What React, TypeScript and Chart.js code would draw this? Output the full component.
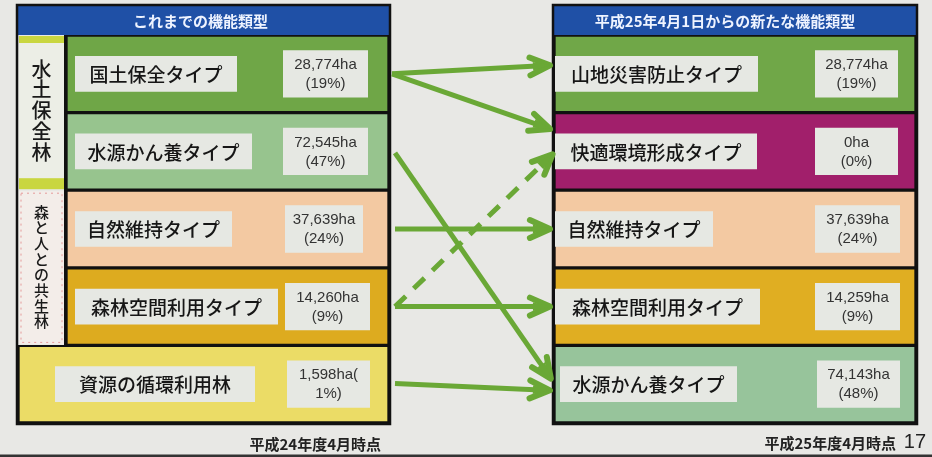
import React, { useEffect, useRef } from "react";
import { Chart, registerables } from "chart.js";
Chart.register(...registerables);

// ---- data ----
const rows = ["row1", "row2", "row3", "row4", "row5"];
const leftTitle = "これまでの機能類型";
const rightTitle = "平成25年4月1日からの新たな機能類型";
const leftNames = ["国土保全タイプ", "水源かん養タイプ", "自然維持タイプ", "森林空間利用タイプ", "資源の循環利用林"];
const leftAreas = ["28,774ha", "72,545ha", "37,639ha", "14,260ha", "1,598ha("];
const leftShares = ["(19%)", "(47%)", "(24%)", "(9%)", "1%)"];
const rightNames = ["山地災害防止タイプ", "快適環境形成タイプ", "自然維持タイプ", "森林空間利用タイプ", "水源かん養タイプ"];
const rightAreas = ["28,774ha", "0ha", "37,639ha", "14,259ha", "74,143ha"];
const rightShares = ["(19%)", "(0%)", "(24%)", "(9%)", "(48%)"];
const groupLabels = ["水土保全林", "森と人との共生林"];
const groupRows = [[0, 1], [2, 3]];
const leftFooter = "平成24年度4月時点";
const rightFooter = "平成25年度4月時点";
const pageNo = "17";

// transitions: from row -> to row (row offsets in row units)
const arrowFrom = [0, 0, 1, 2, 3, 3, 4];
const arrowTo = [0, 1, 4, 2, 3, 1, 4];
const arrowFromOff = [0, 0, 0.02, 0, 0, 0, -0.01];
const arrowToOff = [-0.11, -0.28, -0.05, 0, 0, 0.02, 0.08];
const arrowDashed = [false, false, false, false, false, true, false];
const arrowStartX = [392, 392, 395, 395, 395, 395, 395];
const arrowEndX = [552, 552, 552, 552, 552, 554, 552];

// ---- layout (x units) ----
const leftPanel = [17, 390];
const rightPanel = [553, 917];
const leftBoxes = [[66, 389], [66, 389], [66, 389], [66, 389], [18, 389]];
const rightBoxes = [[554, 916], [554, 916], [554, 916], [554, 916], [554, 916]];
const leftNameBoxes = [[75, 237], [75, 252], [75, 232], [75, 278], [55, 255]];
const leftValueBoxes = [[283, 368], [283, 368], [285, 363], [285, 370], [287, 370]];
const rightNameBoxes = [[555, 758], [555, 757], [555, 713], [555, 760], [560, 737]];
const rightValueBoxes = [[815, 898], [815, 898], [815, 900], [815, 900], [817, 900]];
const groupCol = [19, 64];

// ---- styles ----
const leftColors = ["#6fa647", "#97c48e", "#f3c9a2", "#ddab1f", "#ebdc66"];
const rightColors = ["#70a748", "#a11f6b", "#f3c9a2", "#e0ae22", "#97c49b"];
const BG = "#e8e8e5";
const BLUE = "#1f50a6";
const LABEL_BOX = "#e6e8e3";
const ARROW = "#6aa836";
const JP = '"Noto Sans CJK JP", "Noto Sans", sans-serif';
const LAT = '"Liberation Sans", Arial, sans-serif';

function drawHead(ctx: CanvasRenderingContext2D, x: number, y: number, ang: number) {
  const len = 22, spread = 0.42;
  ctx.save();
  ctx.strokeStyle = ARROW;
  ctx.fillStyle = ARROW;
  ctx.lineWidth = 6;
  ctx.lineCap = "round";
  ctx.lineJoin = "round";
  ctx.setLineDash([]);
  ctx.beginPath();
  ctx.moveTo(x - len * Math.cos(ang - spread), y - len * Math.sin(ang - spread));
  ctx.lineTo(x, y);
  ctx.lineTo(x - len * Math.cos(ang + spread), y - len * Math.sin(ang + spread));
  ctx.stroke();
  ctx.beginPath();
  ctx.moveTo(x, y);
  ctx.lineTo(x - len * 0.8 * Math.cos(ang - spread * 0.6), y - len * 0.8 * Math.sin(ang - spread * 0.6));
  ctx.lineTo(x - len * 0.8 * Math.cos(ang + spread * 0.6), y - len * 0.8 * Math.sin(ang + spread * 0.6));
  ctx.closePath();
  ctx.fill();
  ctx.restore();
}

const diagramPlugin = {
  id: "diagram",
  beforeDraw(chart: any) {
    const { ctx, width, height } = chart;
    ctx.save();
    ctx.fillStyle = BG;
    ctx.fillRect(0, 0, width, height);
    ctx.restore();
  },
  beforeDatasetsDraw(chart: any) {
    const { ctx, scales } = chart;
    const xs = scales.x;
    const top = chart.chartArea.top;
    ctx.save();
    [[leftPanel, leftTitle, -3], [rightPanel, rightTitle, -10]].forEach(([p, t, sh]: any) => {
      const x0 = xs.getPixelForValue(p[0]);
      const x1 = xs.getPixelForValue(p[1]);
      ctx.fillStyle = BLUE;
      ctx.fillRect(x0, 5, x1 - x0, top - 5);
      ctx.fillStyle = "#eef3ff";
      ctx.font = `bold 15px ${JP}`;
      ctx.textAlign = "center";
      ctx.textBaseline = "middle";
      ctx.fillText(t, (x0 + x1) / 2 + sh, (5 + top) / 2 + 1);
    });
    ctx.restore();
  },
  afterDatasetsDraw(chart: any) {
    const { ctx, scales, chartArea } = chart;
    const xs = scales.x, ys = scales.y;
    const rowH = (chartArea.bottom - chartArea.top) / rows.length;
    const cy = (i: number) => ys.getPixelForValue(i);
    ctx.save();

    // group label column
    groupRows.forEach((gr, gi) => {
      const y0 = cy(gr[0]) - rowH / 2 + 1;
      const y1 = cy(gr[gr.length - 1]) + rowH / 2 - 1;
      const x0 = xs.getPixelForValue(groupCol[0]);
      const x1 = xs.getPixelForValue(groupCol[1]);
      ctx.fillStyle = gi === 0 ? "#eceee6" : "#f3ede9";
      ctx.fillRect(x0, y0, x1 - x0, y1 - y0);
      if (gi === 0) {
        ctx.fillStyle = "#c9d640";
        ctx.fillRect(x0, y0, x1 - x0, 7);
        ctx.fillRect(x0, y1 - 11, x1 - x0, 11);
      } else {
        ctx.strokeStyle = "#e59a9a";
        ctx.lineWidth = 1;
        ctx.setLineDash([2, 4]);
        ctx.strokeRect(x0 + 2, y0 + 2, x1 - x0 - 4, y1 - y0 - 4);
        ctx.setLineDash([]);
      }
      const label = groupLabels[gi];
      const chars = Array.from(label);
      const size = gi === 0 ? 20 : 15;
      const step = gi === 0 ? 20.7 : 15.7;
      const mid = (y0 + y1) / 2 - (gi === 0 ? 2 : 1);
      ctx.fillStyle = "#1a1a1a";
      ctx.font = `500 ${size}px ${JP}`;
      ctx.textAlign = "center";
      ctx.textBaseline = "middle";
      chars.forEach((c, k) => {
        ctx.fillText(c, (x0 + x1) / 2, mid + (k - (chars.length - 1) / 2) * step);
      });
    });
    // divider between group column and rows
    ctx.strokeStyle = "#111";
    ctx.lineWidth = 3;
    ctx.beginPath();
    const dx = xs.getPixelForValue(groupCol[1]) + 1.5;
    ctx.moveTo(dx, chartArea.top);
    ctx.lineTo(dx, cy(3) + rowH / 2);
    ctx.stroke();

    // texts in boxes
    const drawTexts = (names: string[], nameBoxes: number[][], areas: string[], shares: string[], valueBoxes: number[][]) => {
      rows.forEach((_, i) => {
        const y = cy(i);
        const nx = (xs.getPixelForValue(nameBoxes[i][0]) + xs.getPixelForValue(nameBoxes[i][1])) / 2;
        ctx.fillStyle = "#161616";
        ctx.font = `500 19px ${JP}`;
        ctx.textAlign = "center";
        ctx.textBaseline = "middle";
        ctx.fillText(names[i], nx, y + 1);
        const vx = (xs.getPixelForValue(valueBoxes[i][0]) + xs.getPixelForValue(valueBoxes[i][1])) / 2;
        ctx.fillStyle = "#333";
        ctx.font = `15px ${LAT}`;
        ctx.fillText(areas[i], vx, y - 9);
        ctx.fillText(shares[i], vx, y + 10);
      });
    };
    drawTexts(leftNames, leftNameBoxes, leftAreas, leftShares, leftValueBoxes);
    drawTexts(rightNames, rightNameBoxes, rightAreas, rightShares, rightValueBoxes);

    // panel frames
    ctx.strokeStyle = "#111";
    ctx.lineWidth = 2.5;
    [leftPanel, rightPanel].forEach((p) => {
      const x0 = xs.getPixelForValue(p[0]);
      const x1 = xs.getPixelForValue(p[1]);
      ctx.strokeRect(x0, 5, x1 - x0, chartArea.bottom - 5 + 1);
    });

    // arrows
    arrowFrom.forEach((f, k) => {
      const x0 = xs.getPixelForValue(arrowStartX[k]);
      const x1 = xs.getPixelForValue(arrowEndX[k]);
      const y0 = ys.getPixelForValue(f) + arrowFromOff[k] * rowH;
      const y1 = ys.getPixelForValue(arrowTo[k]) + arrowToOff[k] * rowH;
      const ang = Math.atan2(y1 - y0, x1 - x0);
      ctx.save();
      ctx.strokeStyle = ARROW;
      ctx.lineWidth = 5;
      ctx.lineCap = "butt";
      if (arrowDashed[k]) ctx.setLineDash([15, 11]);
      ctx.beginPath();
      ctx.moveTo(x0, y0);
      ctx.lineTo(x1 - 6 * Math.cos(ang), y1 - 6 * Math.sin(ang));
      ctx.stroke();
      ctx.restore();
      drawHead(ctx, x1 - 2 * Math.cos(ang), y1 - 2 * Math.sin(ang), ang);
    });

    // footers
    ctx.fillStyle = "#222";
    ctx.textAlign = "right";
    ctx.textBaseline = "middle";
    ctx.font = `bold 15px ${JP}`;
    ctx.fillText(leftFooter, xs.getPixelForValue(381), 444);
    ctx.fillText(rightFooter, xs.getPixelForValue(896), 443);
    ctx.font = `20px ${LAT}`;
    ctx.fillText(pageNo, xs.getPixelForValue(926), 442);
    ctx.strokeStyle = "#333";
    ctx.lineWidth = 3;
    ctx.beginPath();
    ctx.moveTo(0, 456);
    ctx.lineTo(chart.width, 456);
    ctx.stroke();
    ctx.restore();
  },
};

export default function App() {
  const ref = useRef<HTMLCanvasElement>(null);
  useEffect(() => {
    const common = { grouped: false, categoryPercentage: 1, borderSkipped: false };
    const chart = new Chart(ref.current as HTMLCanvasElement, {
      type: "bar",
      data: {
        labels: rows,
        datasets: [
          { ...common, label: "left", data: leftBoxes as any, backgroundColor: leftColors, borderColor: "#111", borderWidth: 2, barPercentage: 1, order: 3 },
          { ...common, label: "right", data: rightBoxes as any, backgroundColor: rightColors, borderColor: "#111", borderWidth: 2, barPercentage: 1, order: 3 },
          { ...common, label: "leftName", data: leftNameBoxes as any, backgroundColor: LABEL_BOX, borderWidth: 0, barPercentage: 0.46, order: 1 },
          { ...common, label: "leftValue", data: leftValueBoxes as any, backgroundColor: LABEL_BOX, borderWidth: 0, barPercentage: 0.61, order: 1 },
          { ...common, label: "rightName", data: rightNameBoxes as any, backgroundColor: LABEL_BOX, borderWidth: 0, barPercentage: 0.46, order: 1 },
          { ...common, label: "rightValue", data: rightValueBoxes as any, backgroundColor: LABEL_BOX, borderWidth: 0, barPercentage: 0.61, order: 1 },
        ] as any,
      },
      options: {
        indexAxis: "y",
        responsive: false,
        maintainAspectRatio: false,
        animation: false,
        layout: { padding: { top: 35, bottom: 34, left: 0, right: 0 } },
        scales: {
          x: { type: "linear", min: 0, max: 932, display: false },
          y: { display: false, offset: true },
        },
        plugins: { legend: { display: false }, tooltip: { enabled: false } },
      } as any,
      plugins: [diagramPlugin],
    });
    return () => chart.destroy();
  }, []);
  return (
    <div style={{ position: "fixed", left: 0, top: 0, width: 932, height: 457 }}>
      <canvas ref={ref} width={932} height={457} style={{ display: "block" }} />
    </div>
  );
}
